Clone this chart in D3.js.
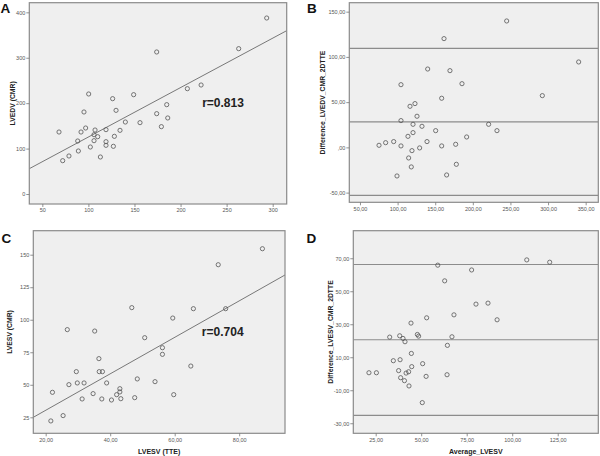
<!DOCTYPE html>
<html>
<head>
<meta charset="utf-8">
<script src="https://cdn.jsdelivr.net/npm/d3@7"></script>
<style>
  html, body { margin: 0; padding: 0; background: #fff; }
  svg { display: block; }
  text { font-family: "Liberation Sans", Arial, sans-serif; }
</style>
</head>
<body>
<svg id="chart" width="600" height="456"></svg>
<script>
// ---- Panel A: LVEDV TTE vs CMR ----
const aX = [68.1, 72.1, 78.9, 88.4, 89.1, 92.0, 95.2, 97.0, 100.3, 102.1, 106.1, 106.1, 107.2, 110.1, 113.0, 119.1, 119.1, 119.1, 126.3, 127.1, 128.2, 130.0, 134.3, 140.1, 149.1, 156.0, 174.1, 174.1, 179.2, 185.0, 186.1, 207.4, 222.3, 263.1, 293.5];
const aY = [136.5, 73.4, 83.7, 116.7, 94.7, 136.5, 180.6, 145.3, 220.2, 103.5, 117.4, 130.6, 140.9, 126.2, 81.5, 141.7, 115.2, 107.2, 209.9, 105.0, 127.0, 184.2, 140.2, 158.5, 218.7, 157.1, 312.7, 176.9, 148.3, 196.7, 167.4, 231.9, 240.0, 320.0, 387.5];
const aFit = [16.7, 1.088];           // intercept, slope
const aR = "r=0.813";
const aXTicks = [50, 100, 150, 200, 250, 300];
const aYTicks = [0, 100, 200, 300, 400];

// ---- Panel B: Bland-Altman LVEDV ----
const bX = [75.3, 84.1, 94.8, 99.2, 104.5, 104.5, 104.5, 114.7, 116.5, 118.2, 119.1, 120.5, 120.5, 113.8, 123.1, 125.8, 129.3, 132.4, 139.1, 140.0, 150.6, 158.6, 158.6, 161.7, 165.2, 169.6, 177.2, 178.1, 185.6, 191.8, 221.0, 232.1, 245.0, 292.4, 340.7];
const bY = [2.3, 5.2, 6.4, -31.6, 69.3, 29.6, 1.6, -11.7, 45.4, -21.6, -3.6, 16.3, 25.5, 12.2, 48.4, 34.4, -0.6, 23.3, 6.4, 86.6, 18.5, 54.3, 1.6, 120.2, -30.5, 84.8, 3.4, -18.7, 70.4, 11.5, 25.5, 18.5, 139.7, 57.2, 94.4];
const bLines = [109.5, 28.1, -53.0];  // upper limit, mean, lower limit
const bXTicks = [50, 100, 150, 200, 250, 300, 350];
const bYTicks = [-50, 0, 50, 100, 150];

// ---- Panel C: LVESV TTE vs CMR ----
const cX = [21.6, 22.1, 25.4, 26.7, 27.2, 29.5, 29.8, 31.3, 31.9, 34.7, 35.2, 36.5, 36.6, 37.4, 37.6, 38.9, 40.4, 42.0, 43.0, 43.0, 43.3, 46.7, 47.6, 48.4, 50.7, 53.9, 56.2, 56.2, 59.4, 59.7, 65.0, 65.8, 73.5, 75.8, 87.2];
const cY = [22.2, 44.2, 26.3, 92.4, 50.1, 60.1, 51.4, 39.1, 51.4, 43.2, 91.3, 70.1, 60.1, 39.1, 60.1, 51.4, 38.3, 42.4, 47.0, 44.5, 39.3, 109.3, 40.1, 54.5, 86.2, 52.4, 78.5, 73.4, 101.3, 42.4, 64.4, 108.5, 142.3, 108.5, 154.6];
const cFit = [2.34, 1.402];
const cR = "r=0.704";
const cXTicks = [20, 40, 60, 80];
const cYTicks = [25, 50, 75, 100, 125, 150];

// ---- Panel D: Bland-Altman LVESV ----
const dX = [21.3, 25.4, 32.7, 34.7, 37.6, 38.2, 38.4, 38.7, 40.0, 40.8, 41.1, 41.7, 43.1, 43.3, 44.4, 44.6, 44.8, 47.9, 48.6, 50.6, 50.8, 52.7, 53.0, 59.1, 62.9, 64.4, 64.2, 66.9, 68.0, 77.7, 80.1, 86.7, 91.7, 108.0, 120.6];
const dY = [0.6, 0.6, 22.2, 7.9, 1.9, 23.0, 8.5, -2.4, 21.4, -4.2, 19.4, 0.4, 1.2, -7.4, 30.7, 12.3, 4.3, 23.8, 22.8, -17.5, 6.1, -1.6, 33.9, 65.8, 56.3, 17.2, -0.6, 22.4, 35.7, 62.9, 42.2, 42.8, 32.7, 69.0, 67.6];
const dLines = [66.2, 20.6, -25.2];
const dXTicks = [25, 50, 75, 100, 125];
const dYTicks = [-30, -10, 10, 30, 50, 70];

// ---- labels ----
const panelLetters = ["A", "B", "C", "D"];
const yTitles = ["LVEDV (CMR)", "Difference_LVEDV_CMR_2DTTE", "LVESV (CMR)", "Difference_LVESV_CMR_2DTTE"];
const xTitles = ["", "", "LVESV (TTE)", "Average_LVESV"];

const intFmt = d3.format("d");
const spssFmt = v => {
  let s = d3.format(".2f")(Math.abs(v)).replace(".", ",");
  if (Math.abs(v) < 1) s = s.replace(/^0/, "");
  return (v < 0 ? "-" : "") + s;
};

const panels = [
  { box: [29.3, 286.7, 2.7, 204], xd: [35.86, 315.2], yd: [-22.0, 421.2], xs: aX, ys: aY, fit: aFit, r: aR, xt: aXTicks, yt: aYTicks, xf: intFmt, yf: intFmt, letter: [0.5, 13.3], ytOff: 14.8 },
  { box: [349.3, 598.3, 2.7, 202.3], xd: [35.8, 366.8], yd: [-60.7, 159.9], xs: bX, ys: bY, lines: bLines, xt: bXTicks, yt: bYTicks, xf: spssFmt, yf: spssFmt, letter: [307, 13.3], ytOff: 24.1 },
  { box: [33.3, 285, 230.7, 433.3], xd: [16.16, 94.2], yd: [12.7, 168.45], xs: cX, ys: cY, fit: cFit, r: cR, xt: cXTicks, yt: cYTicks, xf: spssFmt, yf: intFmt, letter: [1.5, 243.3], ytOff: 21.8 },
  { box: [353.3, 598.3, 230.7, 433.3], xd: [12.7, 147.3], yd: [-36.1, 86.7], xs: dX, ys: dY, lines: dLines, xt: dXTicks, yt: dYTicks, xf: spssFmt, yf: spssFmt, letter: [306.5, 243.3], ytOff: 20.3 }
];

const svg = d3.select("#chart");

panels.forEach((p, i) => {
  const [x0, x1, y0, y1] = p.box;
  const x = d3.scaleLinear().domain(p.xd).range([x0, x1]);
  const y = d3.scaleLinear().domain(p.yd).range([y1, y0]);
  const g = svg.append("g");

  const clipId = "clip" + i;
  svg.append("clipPath").attr("id", clipId)
    .append("rect").attr("x", x0).attr("y", y0).attr("width", x1 - x0).attr("height", y1 - y0);

  g.append("rect")
    .attr("x", x0).attr("y", y0).attr("width", x1 - x0).attr("height", y1 - y0)
    .attr("fill", "#efefef");

  const plot = g.append("g").attr("clip-path", `url(#${clipId})`);

  if (p.lines) {
    plot.selectAll("line.ref").data(p.lines).enter().append("line")
      .attr("x1", x0).attr("x2", x1)
      .attr("y1", d => y(d)).attr("y2", d => y(d))
      .attr("stroke", "#8c8c8c").attr("stroke-width", 1.2);
  }
  if (p.fit) {
    const [b0, b1] = p.fit;
    plot.append("line")
      .attr("x1", x(p.xd[0])).attr("y1", y(b0 + b1 * p.xd[0]))
      .attr("x2", x(p.xd[1])).attr("y2", y(b0 + b1 * p.xd[1]))
      .attr("stroke", "#6a6a6a").attr("stroke-width", 0.9);
  }

  plot.selectAll("circle").data(p.xs.map((v, k) => [v, p.ys[k]])).enter().append("circle")
    .attr("cx", d => x(d[0])).attr("cy", d => y(d[1])).attr("r", 2.1)
    .attr("fill", "none").attr("stroke", "#555").attr("stroke-width", 0.8);

  // frame
  g.append("rect")
    .attr("x", x0).attr("y", y0).attr("width", x1 - x0).attr("height", y1 - y0)
    .attr("fill", "none").attr("stroke", "#8a8a8a").attr("stroke-width", 1.2);

  const xa = g.append("g").attr("transform", `translate(0,${y1})`)
    .call(d3.axisBottom(x).tickValues(p.xt).tickFormat(p.xf).tickSize(3).tickPadding(1.5));
  const ya = g.append("g").attr("transform", `translate(${x0},0)`)
    .call(d3.axisLeft(y).tickValues(p.yt).tickFormat(p.yf).tickSize(3).tickPadding(1));
  [xa, ya].forEach(a => {
    a.select(".domain").remove();
    a.selectAll(".tick line").attr("stroke", "#777").attr("stroke-width", 0.8);
    a.selectAll(".tick text").attr("fill", "#555").style("font-size", "5.5px")
      .style("font-family", "'Liberation Sans', Arial, sans-serif");
  });

  if (p.r) {
    g.append("text").attr("x", x0 + (x1 - x0) * 0.7525).attr("y", y0 + (y1 - y0) * 0.5 + 4)
      .attr("text-anchor", "middle").attr("font-weight", "bold").attr("font-size", 12)
      .attr("fill", "#222").text(p.r);
  }

  g.append("text")
    .attr("transform", `translate(${x0 - p.ytOff},${(y0 + y1) / 2}) rotate(-90)`)
    .attr("text-anchor", "middle").attr("font-weight", "bold").attr("font-size", 6.8)
    .attr("fill", "#222").text(yTitles[i]);

  if (xTitles[i]) {
    g.append("text").attr("x", (x0 + x1) / 2).attr("y", y1 + 20.5)
      .attr("text-anchor", "middle").attr("font-weight", "bold").attr("font-size", 7)
      .attr("fill", "#222").text(xTitles[i]);
  }

  g.append("text").attr("x", p.letter[0]).attr("y", p.letter[1])
    .attr("font-weight", "bold").attr("font-size", 13.5).attr("fill", "#111").text(panelLetters[i]);
});
</script>
</body>
</html>
